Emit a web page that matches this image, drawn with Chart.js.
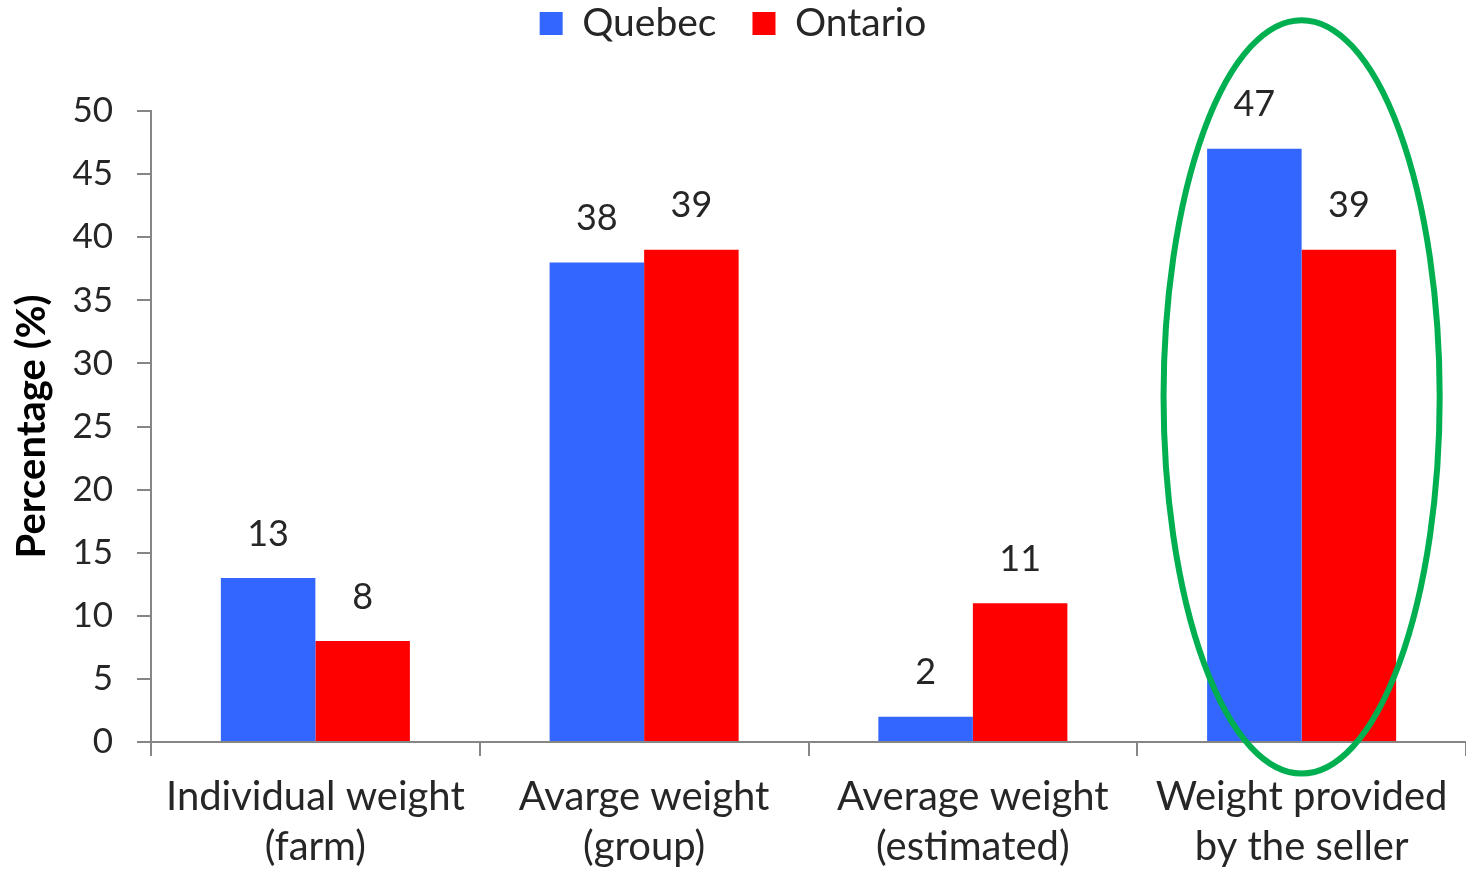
<!DOCTYPE html>
<html>
<head>
<meta charset="utf-8">
<script src="https://cdn.jsdelivr.net/npm/chart.js@4.4.1/dist/chart.umd.min.js"></script>
<style>
  html, body { margin: 0; padding: 0; background: #fff; }
  #wrap { width: 1466px; height: 871px; }
</style>
</head>
<body>
<div id="wrap"><canvas id="bar"></canvas></div>
<script>
"use strict";

// values
var categories = [
    ['Individual weight', '(farm)'],
    ['Avarge weight', '(group)'],
    ['Average weight', '(estimated)'],
    ['Weight provided', 'by the seller']
];
var seriesNames = ['Quebec', 'Ontario'];
var quebec = [13, 38, 2, 47];
var ontario = [8, 39, 11, 39];
var yTicks = [0, 5, 10, 15, 20, 25, 30, 35, 40, 45, 50];

// highlight ring: category index, value span top/bottom, half width in categories
var ringCategory = 3;
var ringValues = [57.2, -2.5];
var ringHalfWidth = 0.42;

var FONT = 'Lato';

// draws the numbers above each bar
var valueLabels = {
    id: 'valueLabels',
    afterDatasetsDraw(chart) {
        let ctx = chart.ctx;
        ctx.save();
        ctx.font = '36px ' + FONT;
        ctx.fillStyle = '#262626';
        ctx.textAlign = 'center';
        ctx.textBaseline = 'middle';
        chart.data.datasets.forEach(function(ds, i) {
            chart.getDatasetMeta(i).data.forEach(function(bar, j) {
                ctx.fillText(String(ds.data[j]), bar.x, bar.y - 44);
            });
        });
        ctx.restore();
    }
};

// green ellipse round the last group
var ring = {
    id: 'ring',
    afterDraw(chart) {
        let x = chart.scales.x, y = chart.scales.y;
        let cx = x.getPixelForValue(ringCategory);
        let top = y.getPixelForValue(ringValues[0]);
        let bottom = y.getPixelForValue(ringValues[1]);
        let catW = x.getPixelForValue(1) - x.getPixelForValue(0);
        let ctx = chart.ctx;
        ctx.save();
        ctx.beginPath();
        ctx.ellipse(cx, (top + bottom) / 2, catW * ringHalfWidth, (bottom - top) / 2, 0, 0, Math.PI * 2);
        ctx.strokeStyle = '#00B050';
        ctx.lineWidth = 6;
        ctx.stroke();
        ctx.restore();
    }
};

// more room under the legend
var legendSpace = {
    id: 'legendSpace',
    beforeInit(chart) {
        let fit = chart.legend.fit;
        chart.legend.fit = function() {
            fit.bind(chart.legend)();
            this.height = 143;
        };
    }
};

window.onload = function() {
    var ctx = document.getElementById('bar').getContext('2d');
    var chart = new Chart(ctx, {
        type: 'bar',
        data: {
            labels: categories,
            datasets: [{
                label: seriesNames[0],
                data: quebec,
                backgroundColor: '#3366FF',
                categoryPercentage: 0.575,
                barPercentage: 1.0
            }, {
                label: seriesNames[1],
                data: ontario,
                backgroundColor: '#FF0000',
                categoryPercentage: 0.575,
                barPercentage: 1.0
            }]
        },
        options: {
            responsive: true,
            maintainAspectRatio: false,
            animation: false,
            layout: { padding: { left: 0, right: 0, top: -32, bottom: 0 } },
            plugins: {
                legend: {
                    position: 'top',
                    labels: {
                        font: { family: FONT, size: 39 },
                        color: '#262626',
                        boxWidth: 23,
                        boxHeight: 23,
                        padding: 36
                    }
                },
                tooltip: { enabled: false }
            },
            scales: {
                x: {
                    grid: {
                        offset: true,
                        drawOnChartArea: false,
                        color: '#868686',
                        lineWidth: 2,
                        tickLength: 14
                    },
                    border: { color: '#868686', width: 2 },
                    ticks: {
                        font: { family: FONT, size: 40, lineHeight: 1.25 },
                        color: '#262626',
                        padding: 16,
                        maxRotation: 0
                    },
                    afterFit: function(scale) { scale.height = 129; }
                },
                y: {
                    min: 0,
                    max: 50,
                    afterBuildTicks: function(scale) {
                        scale.ticks = yTicks.map(function(v) { return { value: v }; });
                    },
                    grid: {
                        drawOnChartArea: false,
                        color: '#868686',
                        lineWidth: 2,
                        tickLength: 14
                    },
                    border: { color: '#868686', width: 2 },
                    ticks: {
                        font: { family: FONT, size: 35 },
                        color: '#262626',
                        padding: 24
                    },
                    title: {
                        display: true,
                        text: 'Percentage (%)',
                        font: { family: FONT, size: 40, weight: 'bold' },
                        color: '#000',
                        padding: { top: 8, bottom: 0 }
                    },
                    afterFit: function(scale) { scale.width = 151; }
                }
            }
        },
        plugins: [valueLabels, ring, legendSpace]
    });
    window.mychart = chart; // for debug
};
</script>
</body>
</html>
